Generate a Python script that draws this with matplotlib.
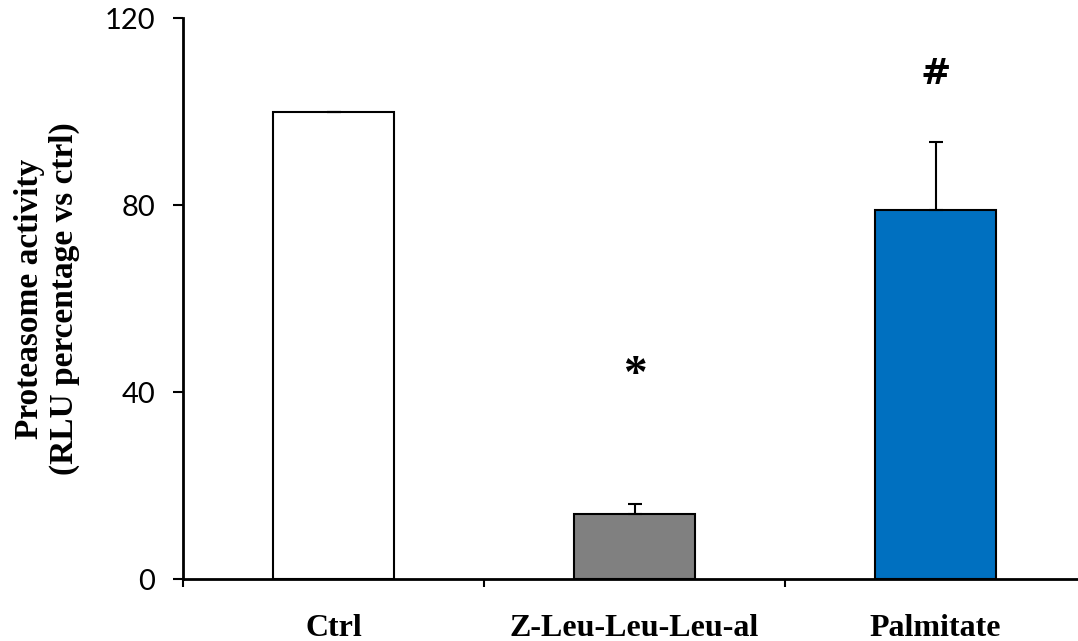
import matplotlib
matplotlib.use("Agg")
import matplotlib.pyplot as plt
from matplotlib.ticker import FixedLocator

# data
categories = ["Ctrl", "Z-Leu-Leu-Leu-al", "Palmitate"]
activity = [100, 14, 79]
errors = [0, 2, 14.5]
bar_colors = ["#ffffff", "#808080", "#0070c0"]
marks = ["", "*", "#"]
mark_y = [None, 43.5, 108]
y_ticks = [0, 40, 80, 120]

fig = plt.figure(figsize=(10.78, 6.41), dpi=100)
ax = fig.add_axes([0.1698, 0.0967, 0.8377, 0.8752])

x = list(range(len(categories)))
ax.bar(x, activity, width=0.4, color=bar_colors, edgecolor="black", linewidth=1.5, zorder=2)
ax.errorbar(x, activity, yerr=[[0] * len(errors), errors], fmt="none",
            ecolor="black", elinewidth=1.5, capsize=5, capthick=1.5, zorder=3)

for xi, m, my in zip(x, marks, mark_y):
    if m == "*":
        ax.text(xi, my, m, ha="center", va="center", fontsize=34, fontweight="bold",
                family="Liberation Serif")
    elif m:
        ax.text(xi, my, m, ha="center", va="center", fontsize=26, fontweight="bold",
                family="DejaVu Sans")

ax.set_xlim(-0.5, len(categories) - 0.5)
ax.set_ylim(0, 120)
ax.set_yticks(y_ticks)
ax.set_yticklabels([str(t) for t in y_ticks], family="Lato", fontsize=21)
ax.tick_params(axis="y", direction="out", length=7, width=1.5, pad=13)

# boundary ticks without labels, category labels on minor ticks
ax.xaxis.set_major_locator(FixedLocator([i - 0.5 for i in range(len(categories) + 1)]))
ax.xaxis.set_major_formatter(plt.NullFormatter())
ax.xaxis.set_minor_locator(FixedLocator(x))
ax.set_xticklabels(categories, minor=True, family="Liberation Serif", fontweight="bold", fontsize=23)
ax.tick_params(axis="x", which="major", direction="out", length=6, width=1.5)
ax.tick_params(axis="x", which="minor", length=0, pad=25)

for side in ["top", "right"]:
    ax.spines[side].set_visible(False)
for side in ["left", "bottom"]:
    ax.spines[side].set_linewidth(2)

ax.set_ylabel("Proteasome activity\n(RLU percentage vs ctrl)", family="Liberation Serif",
              fontweight="bold", fontsize=24, labelpad=18, linespacing=1.15)

fig.savefig("out.png", dpi=100)
